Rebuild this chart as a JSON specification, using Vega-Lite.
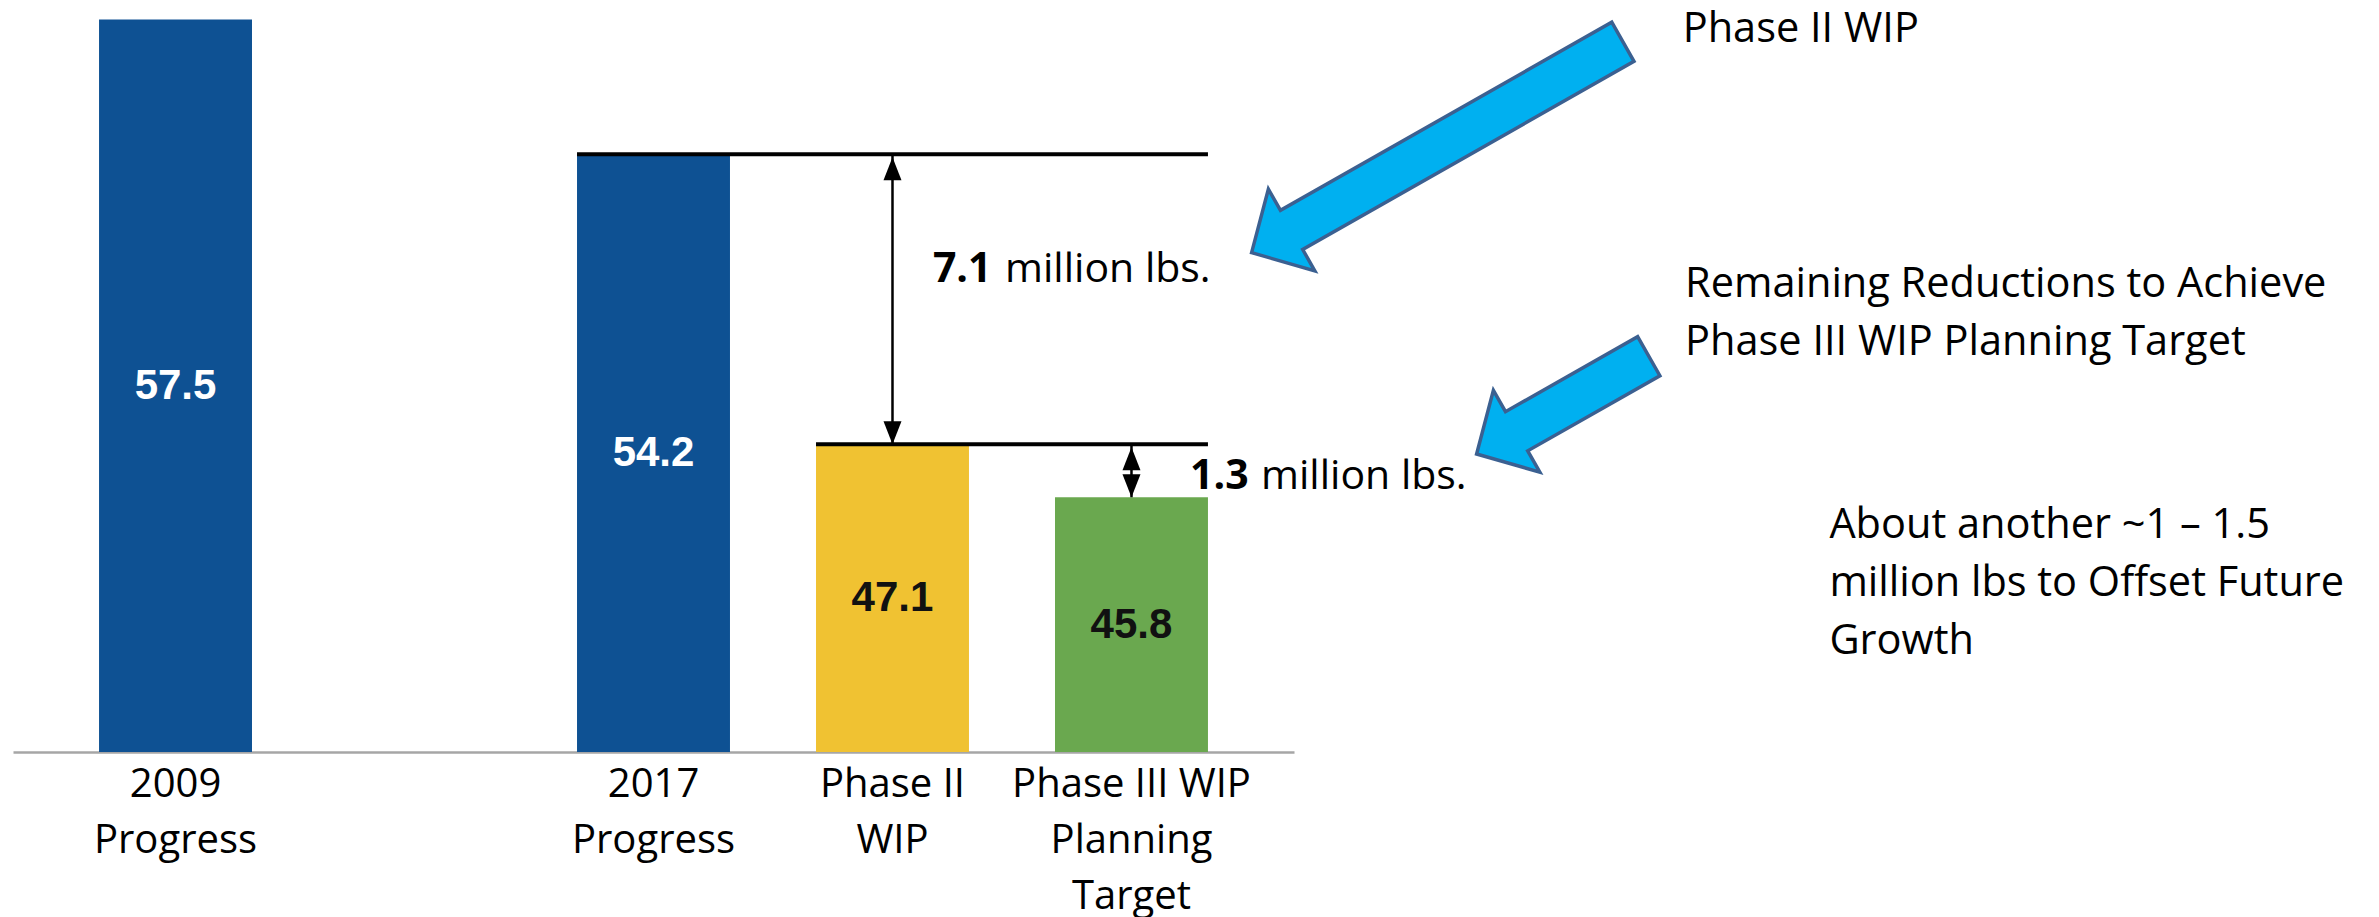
{
  "$schema": "https://vega.github.io/schema/vega-lite/v6.json",
  "width": 2366,
  "height": 752,
  "padding": {"left": 13, "top": 0, "right": 0, "bottom": 165},
  "autosize": {"type": "none"},
  "background": "#ffffff",
  "config": {"view": {"stroke": null}, "font": "Open Sans"},
  "datasets": {
    "loads": [
      {"category": "2009 Progress", "value": 57.5},
      {"category": "2017 Progress", "value": 54.2},
      {"category": "Phase II WIP", "value": 47.1},
      {"category": "Phase III WIP Planning Target", "value": 45.8}
    ],
    "levels": [
      {"from": "2017 Progress", "to": "Phase III WIP Planning Target", "level": 54.2},
      {"from": "Phase II WIP", "to": "Phase III WIP Planning Target", "level": 47.1}
    ],
    "gaps": [
      {"category": "Phase II WIP", "hi": 54.2, "lo": 47.1},
      {"category": "Phase III WIP Planning Target", "hi": 47.1, "lo": 45.8}
    ]
  },
  "layer": [
    {
      "layer": [
        {
          "data": {"name": "loads"},
          "mark": {"type": "bar", "clip": true},
          "encoding": {
            "x": {
              "field": "category", "type": "nominal", "sort": null,
              "scale": {
                "type": "band",
                "domain": ["2009 Progress", " ", "2017 Progress", "Phase II WIP", "Phase III WIP Planning Target"],
                "range": [0, 1281], "paddingInner": 0.36, "paddingOuter": 0.36
              },
              "axis": {
                "title": null, "labelAngle": 0, "ticks": false, "tickSize": 0, "grid": false,
                "labelPadding": 12, "labelBaseline": "top", "labelLimit": 0, "labelOverlap": false,
                "labelFont": "Open Sans", "labelFontSize": 40, "labelColor": "#000000", "labelLineHeight": 56,
                "domainColor": "#A6A6A6", "domainWidth": 2.5,
                "labelExpr": "datum.value == '2009 Progress' ? ['2009', 'Progress'] : datum.value == '2017 Progress' ? ['2017', 'Progress'] : datum.value == 'Phase II WIP' ? ['Phase II', 'WIP'] : datum.value == 'Phase III WIP Planning Target' ? ['Phase III WIP', 'Planning', 'Target'] : ''"
              }
            },
            "y": {
              "field": "value", "type": "quantitative",
              "scale": {"domain": [39.56, 57.98], "zero": false, "nice": false},
              "axis": null
            },
            "color": {
              "field": "category", "type": "nominal",
              "scale": {
                "domain": ["2009 Progress", "2017 Progress", "Phase II WIP", "Phase III WIP Planning Target"],
                "range": ["#0E5193", "#0E5193", "#F0C232", "#6AA84F"]
              },
              "legend": null
            }
          }
        },
        {
          "data": {"name": "levels"},
          "mark": {"type": "rule", "color": "#000000", "strokeWidth": 4},
          "encoding": {
            "x": {
              "field": "from", "type": "nominal", "bandPosition": 0,
              "scale": {
                "type": "band",
                "domain": ["2009 Progress", " ", "2017 Progress", "Phase II WIP", "Phase III WIP Planning Target"],
                "range": [0, 1281], "paddingInner": 0.36, "paddingOuter": 0.36
              }
            },
            "x2": {"field": "to", "bandPosition": 1},
            "y": {"field": "level", "type": "quantitative", "scale": {"domain": [39.56, 57.98], "zero": false, "nice": false}}
          }
        },
        {
          "data": {"name": "gaps"},
          "mark": {"type": "rule", "color": "#000000", "strokeWidth": 2.5},
          "encoding": {
            "x": {
              "field": "category", "type": "nominal",
              "scale": {
                "type": "band",
                "domain": ["2009 Progress", " ", "2017 Progress", "Phase II WIP", "Phase III WIP Planning Target"],
                "range": [0, 1281], "paddingInner": 0.36, "paddingOuter": 0.36
              }
            },
            "y": {"field": "hi", "type": "quantitative", "scale": {"domain": [39.56, 57.98], "zero": false, "nice": false}},
            "y2": {"field": "lo"}
          }
        },
        {
          "data": {"name": "gaps"},
          "mark": {"type": "point", "shape": "M0,3L-9,26L9,26Z", "size": 4, "filled": true, "fill": "#000000", "opacity": 1},
          "encoding": {
            "x": {
              "field": "category", "type": "nominal",
              "scale": {
                "type": "band",
                "domain": ["2009 Progress", " ", "2017 Progress", "Phase II WIP", "Phase III WIP Planning Target"],
                "range": [0, 1281], "paddingInner": 0.36, "paddingOuter": 0.36
              }
            },
            "y": {"field": "hi", "type": "quantitative", "scale": {"domain": [39.56, 57.98], "zero": false, "nice": false}}
          }
        },
        {
          "data": {"name": "gaps"},
          "mark": {"type": "point", "shape": "M0,0L-9,-23L9,-23Z", "size": 4, "filled": true, "fill": "#000000", "opacity": 1},
          "encoding": {
            "x": {
              "field": "category", "type": "nominal",
              "scale": {
                "type": "band",
                "domain": ["2009 Progress", " ", "2017 Progress", "Phase II WIP", "Phase III WIP Planning Target"],
                "range": [0, 1281], "paddingInner": 0.36, "paddingOuter": 0.36
              }
            },
            "y": {"field": "lo", "type": "quantitative", "scale": {"domain": [39.56, 57.98], "zero": false, "nice": false}}
          }
        }
      ]
    },
    {
      "data": {"name": "loads"},
      "mark": {"type": "text", "font": "Liberation Sans", "fontWeight": "bold", "fontSize": 42, "baseline": "middle", "align": "center"},
      "encoding": {
        "x": {
          "field": "category", "type": "nominal",
          "scale": {
            "type": "band",
            "domain": ["2009 Progress", " ", "2017 Progress", "Phase II WIP", "Phase III WIP Planning Target"],
            "range": [0, 1281], "paddingInner": 0.36, "paddingOuter": 0.36
          },
          "axis": null
        },
        "y": {
          "field": "value", "type": "quantitative",
          "scale": {"domain": [39.56, 76.4], "zero": false, "nice": false},
          "axis": null
        },
        "text": {"field": "value", "type": "quantitative", "format": ".1f"},
        "color": {"condition": {"test": "datum.value > 50", "value": "#FFFFFF"}, "value": "#111111"}
      }
    },
    {
      "data": {"values": [{}]},
      "encoding": {
        "x": {"type": "quantitative", "scale": {"domain": [0, 100], "nice": false, "zero": false}, "axis": null},
        "y": {"type": "quantitative", "scale": {"domain": [0, 100], "nice": false, "zero": false}, "axis": null}
      },
      "layer": [
        {
          "mark": {"type": "point", "shape": "M0,0L-46,-47L-46,-22.5L-427,-22.5L-427,22.5L-46,22.5L-46,47Z", "size": 4, "angle": 150.4, "filled": true, "fill": "#00B0F0", "stroke": "#3B6091", "strokeWidth": 3.5, "strokeJoin": "miter", "opacity": 1},
          "encoding": {"x": {"datum": 52.35, "type": "quantitative", "scale": {"domain": [0, 100], "nice": false}, "axis": null}, "y": {"datum": 66.4, "type": "quantitative", "scale": {"domain": [0, 100], "nice": false}, "axis": null}}
        },
        {
          "mark": {"type": "point", "shape": "M0,0L-46,-47L-46,-22.5L-198,-22.5L-198,22.5L-46,22.5L-46,47Z", "size": 4, "angle": 150.4, "filled": true, "fill": "#00B0F0", "stroke": "#3B6091", "strokeWidth": 3.5, "strokeJoin": "miter", "opacity": 1},
          "encoding": {"x": {"datum": 61.86, "type": "quantitative"}, "y": {"datum": 39.63, "type": "quantitative"}}
        },
        {
          "mark": {"type": "text", "align": "left", "baseline": "alphabetic", "font": "Open Sans", "fontSize": 41.5, "color": "#000000"},
          "encoding": {"x": {"datum": 70.57, "type": "quantitative"}, "y": {"datum": 94.38, "type": "quantitative"}, "text": {"value": "Phase II WIP"}}
        },
        {
          "mark": {"type": "text", "align": "left", "baseline": "alphabetic", "font": "Open Sans", "fontSize": 41.5, "lineHeight": 58, "color": "#000000"},
          "encoding": {"x": {"datum": 70.67, "type": "quantitative"}, "y": {"datum": 60.51, "type": "quantitative"}, "text": {"value": ["Remaining Reductions to Achieve", "Phase III WIP Planning Target"]}}
        },
        {
          "mark": {"type": "text", "align": "left", "baseline": "alphabetic", "font": "Open Sans", "fontSize": 41.5, "lineHeight": 58, "color": "#000000"},
          "encoding": {"x": {"datum": 76.77, "type": "quantitative"}, "y": {"datum": 28.42, "type": "quantitative"}, "text": {"value": ["About another ~1 – 1.5", "million lbs to Offset Future", "Growth"]}}
        },
        {
          "mark": {"type": "text", "align": "left", "baseline": "alphabetic", "font": "Open Sans", "fontWeight": "bold", "fontSize": 41, "color": "#000000"},
          "encoding": {"x": {"datum": 38.88, "type": "quantitative"}, "y": {"datum": 62.54, "type": "quantitative"}, "text": {"value": "7.1"}}
        },
        {
          "mark": {"type": "text", "align": "left", "baseline": "alphabetic", "font": "Open Sans", "fontSize": 41, "color": "#000000"},
          "encoding": {"x": {"datum": 41.93, "type": "quantitative"}, "y": {"datum": 62.54, "type": "quantitative"}, "text": {"value": "million lbs."}}
        },
        {
          "mark": {"type": "text", "align": "left", "baseline": "alphabetic", "font": "Open Sans", "fontWeight": "bold", "fontSize": 41, "color": "#000000"},
          "encoding": {"x": {"datum": 49.75, "type": "quantitative"}, "y": {"datum": 34.93, "type": "quantitative"}, "text": {"value": "1.3"}}
        },
        {
          "mark": {"type": "text", "align": "left", "baseline": "alphabetic", "font": "Open Sans", "fontSize": 41, "color": "#000000"},
          "encoding": {"x": {"datum": 52.75, "type": "quantitative"}, "y": {"datum": 34.93, "type": "quantitative"}, "text": {"value": "million lbs."}}
        }
      ]
    }
  ],
  "resolve": {
    "scale": {"x": "independent", "y": "independent", "color": "independent"},
    "axis": {"x": "independent", "y": "independent"}
  }
}
